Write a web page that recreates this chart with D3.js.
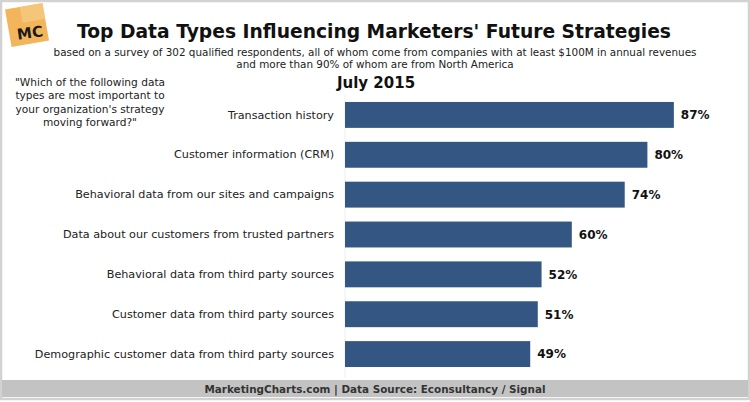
<!DOCTYPE html>
<html>
<head>
<meta charset="utf-8">
<script src="https://cdn.jsdelivr.net/npm/d3@7"></script>
<style>
  body { margin: 0; background: #fff; }
  svg { display: block; font-family: "DejaVu Sans", Verdana, sans-serif; }
</style>
</head>
<body>
<svg id="chart" width="750" height="402"></svg>
<script>
const W = 750, H = 402;

// data
const categories = [
    'Transaction history',
    'Customer information (CRM)',
    'Behavioral data from our sites and campaigns',
    'Data about our customers from trusted partners',
    'Behavioral data from third party sources',
    'Customer data from third party sources',
    'Demographic customer data from third party sources'
];
const values = [87, 80, 74, 60, 52, 51, 49];
const questionLines = [
    '"Which of the following data',
    'types are most important to',
    'your organization\'s strategy',
    'moving forward?"'
];
const subtitleLines = [
    'based on a survey of 302 qualified respondents, all of whom come from companies with at least $100M in annual revenues',
    'and more than 90% of whom are from North America'
];

const svg = d3.select('#chart');

// frame
svg.append('rect')
    .attr('x', 1).attr('y', 1)
    .attr('width', W - 2).attr('height', H - 4)
    .attr('fill', '#fff')
    .attr('stroke', '#d2d2d2')
    .attr('stroke-width', 2.5);

// logo
let logo = svg.append('g').attr('transform', 'translate(27,25) rotate(-10)');
logo.append('rect')
    .attr('x', -19).attr('y', -19).attr('width', 38).attr('height', 38)
    .attr('fill', '#f2b55c');
logo.append('rect')
    .attr('x', -4).attr('y', -19).attr('width', 23).attr('height', 16)
    .attr('fill', '#f7cd86').attr('opacity', 0.7);
svg.append('text')
    .attr('x', 30).attr('y', 38)
    .attr('text-anchor', 'middle')
    .attr('transform', 'rotate(-8,30,33)')
    .attr('font-size', 15).attr('font-weight', 'bold')
    .attr('fill', '#1a1a1a')
    .text('MC');

// titles
svg.append('text')
    .attr('x', 374).attr('y', 38)
    .attr('text-anchor', 'middle')
    .attr('font-size', 18.7).attr('font-weight', 'bold')
    .attr('fill', '#111')
    .text("Top Data Types Influencing Marketers' Future Strategies");

svg.selectAll('text.sub')
    .data(subtitleLines)
    .enter().append('text')
    .attr('class', 'sub')
    .attr('x', 375)
    .attr('y', (d, i) => 56 + i * 12)
    .attr('text-anchor', 'middle')
    .attr('font-size', 10.4)
    .attr('fill', '#222')
    .text(d => d);

svg.append('text')
    .attr('x', 376).attr('y', 88)
    .attr('text-anchor', 'middle')
    .attr('font-size', 15).attr('font-weight', 'bold')
    .attr('fill', '#111')
    .text('July 2015');

svg.selectAll('text.q')
    .data(questionLines)
    .enter().append('text')
    .attr('class', 'q')
    .attr('x', 90)
    .attr('y', (d, i) => 86 + i * 13.3)
    .attr('text-anchor', 'middle')
    .attr('font-size', 10.6)
    .attr('fill', '#222')
    .text(d => d);

// scales
const x = d3.scaleLinear().domain([0, 100]).range([345, 723]);
const y = d3.scaleBand().domain(categories).range([95, 374])
    .paddingInner(0.35).paddingOuter(0.175);

// faint axis line
svg.append('line')
    .attr('x1', x(0)).attr('x2', x(0))
    .attr('y1', 95).attr('y2', 378)
    .attr('stroke', '#eeeeee');

const yAxis = svg.append('g')
    .attr('transform', `translate(${x(0)},0)`)
    .call(d3.axisLeft(y).tickSize(0).tickPadding(11));
yAxis.select('.domain').remove();
yAxis.selectAll('text')
    .attr('font-size', 11.2)
    .attr('font-family', '"DejaVu Sans", Verdana, sans-serif')
    .attr('fill', '#222');

svg.selectAll('rect.bar')
    .data(values)
    .enter().append('rect')
    .attr('class', 'bar')
    .attr('x', x(0))
    .attr('y', (d, i) => y(categories[i]))
    .attr('width', d => x(d) - x(0))
    .attr('height', y.bandwidth())
    .attr('fill', '#335782');

svg.selectAll('text.val')
    .data(values)
    .enter().append('text')
    .attr('class', 'val')
    .attr('x', d => x(d) + 7)
    .attr('y', (d, i) => y(categories[i]) + y.bandwidth() / 2)
    .attr('dy', '0.36em')
    .attr('font-size', 12).attr('font-weight', 'bold')
    .attr('fill', '#111')
    .text(d => d + '%');

// footer
svg.append('rect')
    .attr('x', 2).attr('y', 380)
    .attr('width', W - 4).attr('height', 17)
    .attr('fill', '#c3c3c3');
svg.append('text')
    .attr('x', 375).attr('y', 392.5)
    .attr('text-anchor', 'middle')
    .attr('font-size', 10.4).attr('font-weight', 'bold')
    .attr('fill', '#333')
    .text('MarketingCharts.com | Data Source: Econsultancy / Signal');
</script>
</body>
</html>
